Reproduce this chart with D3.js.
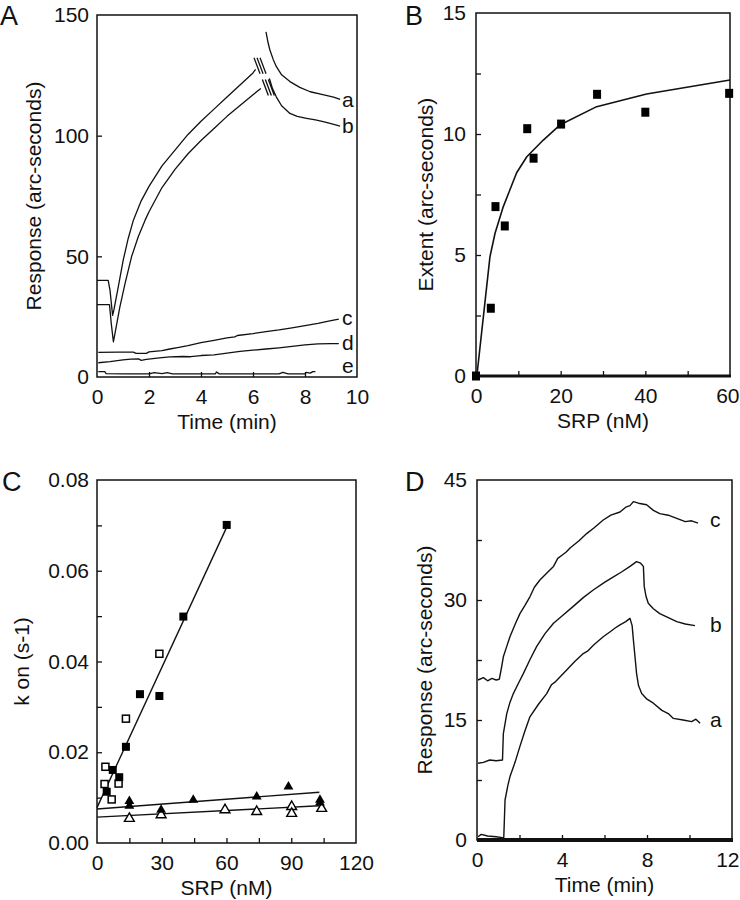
<!DOCTYPE html>
<html><head><meta charset="utf-8">
<script src="https://cdn.jsdelivr.net/npm/d3@7"></script>
<style>
body{margin:0;background:#fff}
svg{display:block}
text{font-family:"Liberation Sans",Arial,Helvetica,sans-serif;fill:#111}
</style>
</head><body>
<svg id="fig" width="740" height="900"></svg>
<script>
// ---------- Panel A : response traces (time in min, arc-seconds) ----------
const aRise = [[0,40],[0.43,40],[0.5,36],[0.6,25.5],[0.65,27.8],[0.82,37.4],[1.01,48.5],[1.2,57.4],[1.4,65],[1.7,73],[2,79],[2.5,87.5],[3,94],[3.5,100.5],[4,106],[4.5,111],[5,116],[5.5,121],[6,126],[6.1,127.5]];
const bRise = [[0,30],[0.48,30],[0.55,22],[0.63,14.6],[0.69,18],[0.88,29.1],[1.08,38.8],[1.33,49.9],[1.59,58.2],[1.85,65],[2,68.5],[2.5,78.5],[3,86],[3.5,92.5],[4,98],[4.5,103],[5,108],[5.5,112.5],[6,117],[6.3,119.5]];
const aDecay = [[6.5,143],[6.58,138.5],[6.65,135.5],[6.78,131.5],[6.9,128.6],[7.1,125.2],[7.42,122.4],[7.8,120],[8.2,118.2],[8.6,117.2],[9.1,116],[9.35,115]];
const bDecay = [[6.63,123.7],[6.75,119.5],[6.9,116],[7.1,112.4],[7.42,109.2],[7.7,108],[8.06,107.2],[8.4,106.5],[8.7,105.8],[9.0,105],[9.35,104]];
const cTrace = [[0.05,10.2],[0.8,10.3],[1.4,10.3],[1.5,9.8],[1.9,9.8],[2.0,10.4],[2.5,10.9],[2.8,11.6],[3.1,12.2],[3.5,13],[4,14.2],[4.5,15.2],[5,16.2],[5.3,16.6],[5.4,17.2],[6,18],[6.5,18.8],[7,19.5],[7.5,20.4],[8,21.3],[8.5,22.2],[9,23.4],[9.3,24]];
const dTrace = [[0.05,5.9],[0.5,6.4],[1,7.1],[1.3,7.4],[1.6,7.5],[1.7,6.9],[1.9,7.3],[2.4,7.9],[2.8,8.3],[3.3,8.5],[3.6,8.4],[4,8.9],[4.5,9.2],[5,9.9],[5.5,10.6],[6,11.1],[6.5,11.6],[7,12.1],[7.5,12.7],[8,13.3],[8.5,13.7],[9,13.8],[9.3,13.8]];
const eTrace = [[0.05,2.2],[0.3,2.2],[0.35,1.4],[1,1.3],[2,1.3],[2.2,1.8],[2.5,1.4],[2.7,1.8],[2.9,1.3],[4,1.3],[4.55,1.3],[4.6,2.1],[4.7,1.3],[6,1.3],[7,1.3],[7.15,1.9],[7.35,1.3],[8,1.3],[8.05,1.9],[8.2,1.6],[8.3,2.2],[8.4,2.2]];
const aBreaks = [[6.27,129],[6.59,120]];
const aLabels = [["a",9.42,111.9],["b",9.42,101.1],["c",9.42,21.5],["d",9.42,11.2],["e",9.42,1.7]];
const aXTickLabels = [0,2,4,6,8,10];
const aYTickLabels = [0,50,100,150];
const aXTicks = [2,4,6,8];
const aYTicks = [50,100];

// ---------- Panel B : extent vs SRP ----------
const bSRP    = [0,3.5,4.6,6.8,12.1,13.6,20.1,28.6,40,59.8];
const bExtent = [0,2.8,7.0,6.2,10.22,9.0,10.41,11.64,10.9,11.68];
const bFitSRP = [0.2,3.3,4.5,6.45,9.6,12,15.9,19.8,28.5,40.3,60];
const bFitExt = [0,4.93,5.9,7.0,8.4,9.06,9.75,10.37,11.13,11.65,12.23];
const bXTickLabels = [0,20,40,60];
const bYTickLabels = [0,5,10,15];
const bXTicks = [10,20,30,40,50];
const bYTicks = [2.5,5,7.5,10,12.5];

// ---------- Panel C : k on vs SRP ----------
const cFilledSq = [[4.5,0.0113],[7.3,0.0161],[10.3,0.0145],[13.4,0.0212],[19.9,0.0328],[28.9,0.0324],[40,0.0499],[60.1,0.0701]];
const cOpenSq   = [[3.9,0.0168],[3.5,0.0130],[6.8,0.0096],[10,0.0131],[13.4,0.0274],[28.9,0.0417]];
const cFilledTri = [[15,0.0092],[15,0.0082],[29.7,0.0073],[44.6,0.0095],[74,0.0102],[88.7,0.0124],[103.3,0.0095],[103.3,0.0089]];
const cOpenTri   = [[15,0.0054],[29.7,0.0062],[59.3,0.0073],[74,0.0069],[90.2,0.0080],[90.2,0.0065],[104.1,0.0076]];
const cFitSteep  = [[0,0.0078],[60,0.0695]];
const cFitFilled = [[0,0.0075],[103,0.0112]];
const cFitOpen   = [[0,0.0057],[103,0.0082]];
const cXTickLabels = [0,30,60,90,120];
const cYTickLabels = [0,0.02,0.04,0.06,0.08];
const cXTicks = [15,30,45,60,75,90,105];
const cYTicks = [0.01,0.02,0.03,0.04,0.05,0.06,0.07];

// ---------- Panel D : response traces ----------
const dA = [[0.05,0.4],[0.2,0.7],[0.5,0.5],[0.9,0.4],[1.2,0.3],[1.26,0.3],[1.32,5],[1.45,6.8],[1.55,7.9],[1.8,9.8],[2.02,11.7],[2.25,13.6],[2.49,15.4],[2.9,17],[3.28,18.3],[3.5,19.4],[3.7,19.8],[4.22,21.25],[4.6,22.3],[5.0,23.3],[5.2,23.6],[5.5,24.4],[5.94,25.4],[6.3,26.1],[6.5,26.5],[6.73,26.9],[7.0,27.3],[7.2,27.7],[7.3,26.8],[7.36,25],[7.45,22.5],[7.51,20.8],[7.6,19.3],[7.75,18.3],[8.0,17.6],[8.3,17.1],[8.7,16.2],[9.0,15.8],[9.24,15.2],[9.7,15],[10.1,14.8],[10.3,15.1],[10.5,14.6]];
const dB = [[0.05,9.6],[0.3,9.7],[0.6,10],[0.9,9.9],[1.2,10],[1.24,13.3],[1.4,15.8],[1.55,17.2],[1.71,18.3],[1.95,19.6],[2.18,20.8],[2.5,22.6],[2.81,24.2],[3.2,25.8],[3.6,27.1],[4.0,28],[4.53,29.2],[5.0,30.3],[5.47,31.25],[6.0,32.2],[6.42,32.9],[6.8,33.5],[7.2,34.2],[7.51,34.8],[7.7,34.6],[7.83,34.2],[7.87,31.7],[7.95,30.5],[8.06,29.6],[8.3,28.9],[8.6,28.3],[9.0,27.8],[9.4,27.3],[9.8,27],[10.26,26.8]];
const dC = [[0.05,20],[0.3,20.3],[0.5,19.9],[0.7,20.2],[0.9,20],[1.05,20.1],[1.15,21.5],[1.24,22.9],[1.4,24.2],[1.55,25.4],[1.8,27],[2.02,28.3],[2.25,29.3],[2.49,30.4],[2.7,31.6],[2.96,32.5],[3.3,33.4],[3.6,34.2],[3.8,35.2],[4.0,35.6],[4.2,36],[4.38,36.5],[4.8,37.4],[5.16,38.3],[5.5,39],[5.94,40],[6.3,40.6],[6.73,41],[7.0,41.6],[7.2,41.8],[7.36,42.3],[7.6,42.1],[7.98,41.9],[8.3,41.2],[8.6,40.8],[9.0,40.6],[9.4,40.2],[9.8,39.8],[10.1,39.9],[10.4,39.6]];
const dLabels = [["c",10.96,39.1],["b",10.96,26],["a",10.96,14.1]];
const dXTickLabels = [0,4,8,12];
const dYTickLabels = [0,15,30,45];
const dXTicks = [2,4,6,8,10];
const dYTicks = [7.5,15,22.5,30,37.5];

// ======================================================================
const svg = d3.select("#fig");
const FS = 21;

function panel(o){
  const x = d3.scaleLinear().domain(o.xd).range([o.x0,o.x1]);
  const y = d3.scaleLinear().domain(o.yd).range([o.y1,o.y0]);
  const g = svg.append("g");
  // inner ticks
  g.append("g").attr("transform",`translate(0,${o.y1})`)
    .call(d3.axisBottom(x).tickValues(o.xt).tickSize(-5).tickFormat(""))
    .call(s=>{s.select(".domain").remove(); s.selectAll("line").attr("stroke","#111").attr("stroke-width",1.3);});
  g.append("g").attr("transform",`translate(${o.x0},0)`)
    .call(d3.axisLeft(y).tickValues(o.yt).tickSize(-5).tickFormat(""))
    .call(s=>{s.select(".domain").remove(); s.selectAll("line").attr("stroke","#111").attr("stroke-width",1.3);});
  // tick labels
  g.append("g").attr("transform",`translate(0,${o.y1})`)
    .call(d3.axisBottom(x).tickValues(o.xl).tickSize(0).tickPadding(12).tickFormat(o.xf||d3.format("d")))
    .call(s=>{s.select(".domain").remove(); s.selectAll("text").attr("font-size",FS).attr("fill","#111").attr("font-family",null);})
    .call(s=>s.selectAll("text").each(function(){
      const b=this.getBBox(), gx=+d3.select(this.parentNode).attr("transform").match(/translate\(([-\d.]+)/)[1];
      const over = gx + b.x + b.width - 739.5;
      if(over>0) d3.select(this).attr("x",-over);
    }));
  g.append("g").attr("transform",`translate(${o.x0},0)`)
    .call(d3.axisLeft(y).tickValues(o.yl).tickSize(0).tickPadding(o.ypad||8).tickFormat(o.yf||d3.format("d")))
    .call(s=>{s.select(".domain").remove(); s.selectAll("text").attr("font-size",FS).attr("fill","#111").attr("font-family",null);});
  // frame
  g.append("rect").attr("x",o.x0).attr("y",o.y0).attr("width",o.x1-o.x0).attr("height",o.y1-o.y0)
    .attr("fill","none").attr("stroke","#111").attr("stroke-width",1.5);
  if(o.thick) g.append("line").attr("x1",o.x0).attr("x2",o.x1+1).attr("y1",o.y1).attr("y2",o.y1)
    .attr("stroke","#111").attr("stroke-width",o.thick);
  // titles
  g.append("text").attr("x",(o.x0+o.x1)/2).attr("y",o.y1+52).attr("text-anchor","middle")
    .attr("font-size",FS).text(o.xtitle);
  g.append("text").attr("transform",`translate(${o.ytx},${(o.y0+o.y1)/2}) rotate(-90)`)
    .attr("text-anchor","middle").attr("font-size",FS).text(o.ytitle);
  g.append("text").attr("x",o.lx).attr("y",o.ly).attr("font-size",27).text(o.letter);
  return {x,y,g};
}

const lineStyle = s=>s.attr("fill","none").attr("stroke","#111").attr("stroke-width",1.4).attr("stroke-linejoin","round");

// ---- Panel A
{
  const P = panel({x0:97,x1:357,y0:15,y1:377,xd:[0,10],yd:[0,150],xt:aXTicks,yt:aYTicks,xl:aXTickLabels,yl:aYTickLabels,
    xtitle:"Time (min)",ytitle:"Response (arc-seconds)",ytx:41,letter:"A",lx:0,ly:25});
  const ln = d3.line().x(d=>P.x(d[0])).y(d=>P.y(d[1]));
  [aRise,bRise,aDecay,bDecay,cTrace,dTrace,eTrace].forEach(s=>P.g.append("path").attr("d",ln(s)).call(lineStyle).attr("stroke-width",1.3));
  aBreaks.forEach(b=>{
    const cx=P.x(b[0]), cy=P.y(b[1]);
    [-3,0,3].forEach(o=>P.g.append("line").attr("x1",cx+o-3).attr("y1",cy-8).attr("x2",cx+o+3).attr("y2",cy+8)
      .attr("stroke","#111").attr("stroke-width",1.3));
  });
  aLabels.forEach(l=>P.g.append("text").attr("x",P.x(l[1])).attr("y",P.y(l[2])).attr("font-size",FS).text(l[0]));
}

// ---- Panel B
{
  const P = panel({x0:476,x1:730,y0:13,y1:376,xd:[0,60],yd:[0,15],xt:bXTicks,yt:bYTicks,xl:bXTickLabels,yl:bYTickLabels,
    ypad:10,thick:3,xtitle:"SRP (nM)",ytitle:"Extent (arc-seconds)",ytx:433,letter:"B",lx:405,ly:25});
  const fit = bFitSRP.map((s,i)=>[s,bFitExt[i]]);
  P.g.append("path").attr("d",d3.line().x(d=>P.x(d[0])).y(d=>P.y(d[1]))(fit)).call(lineStyle).attr("stroke-width",1.6);
  P.g.selectAll(null).data(bSRP.map((s,i)=>[s,bExtent[i]])).join("rect")
    .attr("x",d=>P.x(d[0])-4).attr("y",d=>P.y(d[1])-4.5).attr("width",8).attr("height",9).attr("fill","#000");
}

// ---- Panel C
{
  const P = panel({x0:97,x1:356,y0:480,y1:843,xd:[0,120],yd:[0,0.08],xt:cXTicks,yt:cYTicks,xl:cXTickLabels,yl:cYTickLabels,
    yf:d3.format(".2f"),xtitle:"SRP (nM)",ytitle:"k on (s-1)",ytx:29,letter:"C",lx:2,ly:491});
  const ln = d3.line().x(d=>P.x(d[0])).y(d=>P.y(d[1]));
  [cFitSteep,cFitFilled,cFitOpen].forEach(s=>P.g.append("path").attr("d",ln(s)).call(lineStyle));
  P.g.selectAll(null).data(cOpenSq).join("rect")
    .attr("x",d=>P.x(d[0])-3.5).attr("y",d=>P.y(d[1])-3.5).attr("width",7).attr("height",7)
    .attr("fill","#fff").attr("stroke","#000").attr("stroke-width",1.5);
  P.g.selectAll(null).data(cFilledSq).join("rect")
    .attr("x",d=>P.x(d[0])-4).attr("y",d=>P.y(d[1])-4).attr("width",8).attr("height",8).attr("fill","#000");
  const tri = d3.symbol().type(d3.symbolTriangle).size(42);
  P.g.selectAll(null).data(cOpenTri).join("path").attr("d",tri)
    .attr("transform",d=>`translate(${P.x(d[0])},${P.y(d[1])})`)
    .attr("fill","#fff").attr("stroke","#000").attr("stroke-width",1.4);
  P.g.selectAll(null).data(cFilledTri).join("path").attr("d",tri)
    .attr("transform",d=>`translate(${P.x(d[0])},${P.y(d[1])})`).attr("fill","#000");
}

// ---- Panel D
{
  const P = panel({x0:477,x1:732,y0:480,y1:840,xd:[0,12],yd:[0,45],xt:dXTicks,yt:dYTicks,xl:dXTickLabels,yl:dYTickLabels,
    ypad:10,thick:4,xtitle:"Time (min)",ytitle:"Response (arc-seconds)",ytx:432,letter:"D",lx:405,ly:491});
  const ln = d3.line().x(d=>P.x(d[0])).y(d=>P.y(d[1]));
  [dA,dB,dC].forEach(s=>P.g.append("path").attr("d",ln(s)).call(lineStyle));
  dLabels.forEach(l=>P.g.append("text").attr("x",P.x(l[1])).attr("y",P.y(l[2])).attr("font-size",FS).text(l[0]));
}
</script>
</body></html>
